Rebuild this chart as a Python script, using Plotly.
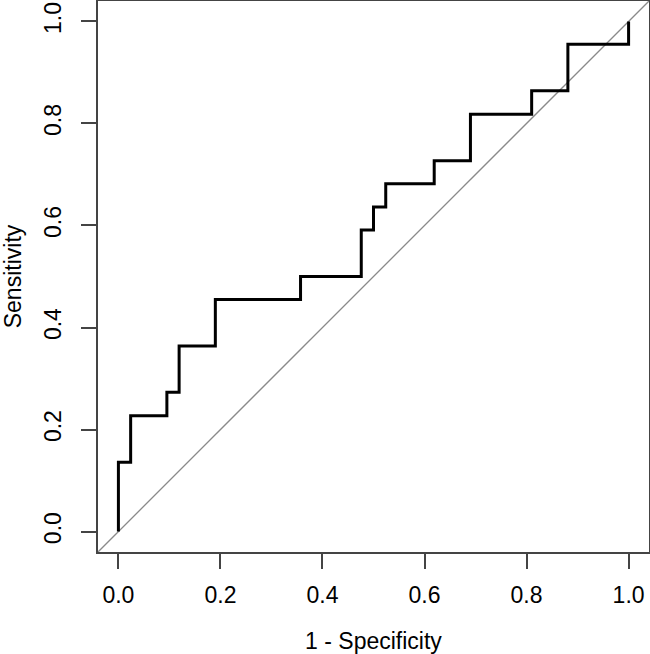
import plotly.graph_objects as go

# ROC curve corner points (1 - specificity, sensitivity)
fpr = [0.0, 0.024, 0.095, 0.119, 0.190, 0.357, 0.476, 0.500, 0.524, 0.619, 0.690, 0.810, 0.881, 1.0, 1.0]
tpr = [0.0, 0.136, 0.227, 0.273, 0.364, 0.455, 0.500, 0.591, 0.636, 0.682, 0.727, 0.818, 0.864, 0.955, 1.0]

# reference diagonal spanning the whole plot region
diag = [-0.04, 1.04]

tick_vals = [0.0, 0.2, 0.4, 0.6, 0.8, 1.0]
tick_text = ["0.0", "0.2", "0.4", "0.6", "0.8", "1.0"]

FONT = "Liberation Sans, Arial, sans-serif"
FRAME = "#444444"

fig = go.Figure()
fig.add_trace(go.Scatter(x=diag, y=diag, mode="lines",
                         line=dict(color="#8a8a8a", width=1.3),
                         hoverinfo="skip", showlegend=False))
fig.add_trace(go.Scatter(x=fpr, y=tpr, mode="lines", line_shape="vh",
                         line=dict(color="black", width=3),
                         showlegend=False))

axis_common = dict(
    range=[-0.04, 1.04], showgrid=False, zeroline=False,
    showline=True, linecolor=FRAME, linewidth=1.5, mirror=True,
    ticks="outside", ticklen=15, tickwidth=1.5, tickcolor=FRAME,
    tickvals=tick_vals, ticktext=tick_text,
    tickfont=dict(family=FONT, size=23, color="black"),
    automargin=False,
)

fig.update_layout(
    width=650, height=654,
    margin=dict(l=98, r=1, t=1, b=102),
    paper_bgcolor="white", plot_bgcolor="white",
    font=dict(family=FONT, size=23, color="black"),
    xaxis=dict(**axis_common, ticklabelstandoff=7,
               title=dict(text="1 - Specificity", standoff=26,
                          font=dict(family=FONT, size=23, color="black"))),
    yaxis=dict(**axis_common, tickangle=-90, ticklabelstandoff=11,
               title=dict(text="Sensitivity", standoff=26,
                          font=dict(family=FONT, size=23, color="black"))),
)

fig.write_html("out.html",
               config={"displayModeBar": False},
               post_script="document.body.style.margin='0';document.body.style.padding='0';")
